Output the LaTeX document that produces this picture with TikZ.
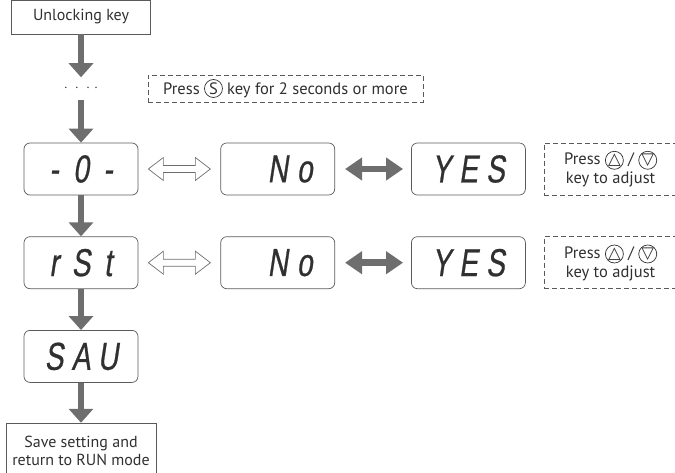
\documentclass[tikz,border=0pt]{standalone}
\usepackage{fontspec}
\setmainfont{PT Sans}
\newfontfamily\segfont{Liberation Sans}[FakeSlant=0.15,FakeStretch=0.72,FakeBold=0.6]
\newfontfamily\symfont{DejaVu Sans}
\usepackage{tikz}
\usetikzlibrary{arrows.meta,positioning,calc}
\definecolor{arrowgray}{HTML}{6E6E6E}
\definecolor{framegray}{HTML}{5A5A5A}
\definecolor{textgray}{HTML}{303030}
\newcommand{\segchars}[3]{\makebox[27pt]{#1}\makebox[27pt]{#2}\makebox[27pt]{#3}}
\newcommand{\keycirc}[1]{\tikz[baseline=(k.base)]\node[circle,draw=textgray,line width=0.7pt,inner sep=0pt,minimum size=18pt] (k) {#1};}

\begin{document}
\begin{tikzpicture}[x=1pt, y=-1pt, node distance=41pt,
    every node/.style={text=textgray},
    textbox/.style={draw=framegray, line width=0.7pt, font=\fontsize{16}{18}\selectfont, inner sep=2pt},
    display/.style={draw=framegray, line width=0.7pt, rounded corners=6pt, minimum width=114pt, minimum height=52pt, inner sep=0pt, font=\segfont\fontsize{39}{39}\selectfont},
    hint/.style={draw=framegray, line width=0.7pt, dash pattern=on 5pt off 3pt, font=\fontsize{16.5}{19}\selectfont, align=center, inner sep=1pt},
    down/.style={draw=arrowgray, line width=6.5pt, -{Triangle[width=24pt,length=14pt]}},
    swap/.style={draw=arrowgray, line width=6.5pt, {Triangle[width=22pt,length=17pt]}-{Triangle[width=22pt,length=17pt]}, shorten <=10pt, shorten >=8pt},
    hollow/.style={draw=arrowgray, fill=white, line width=0.7pt, line join=miter}]
  \useasboundingbox (0,0) rectangle (675,473);

  % display column
  \node[display] (zero) at (81,169) {\segchars{-}{0}{-}};
  \node[display, below=of zero] (rst) {\segchars{r}{S}{t}};
  \node[display, below=of rst] (sav) {\segchars{S}{A}{U}};
  \node[textbox, below=40pt of sav, minimum width=150pt, minimum height=56pt, align=center] (save) {Save setting and\\return to RUN mode};
  \node[minimum height=22pt, inner sep=0pt, font=\fontsize{14}{14}\selectfont, above=43pt of zero] (dots) {$\cdot\;\cdot\;\cdot\;\cdot$};
  \node[textbox, minimum width=139pt, minimum height=34pt, above=43pt of dots] (unlock) {Unlocking key};
  \node[hint, minimum width=275pt, minimum height=27pt] (presss) at (285.5,88.5) {Press \keycirc{S}\ key for 2 seconds or more};

  % choices
  \node[display, right=82pt of zero] (no1) {\segchars{}{N}{o}};
  \node[display, right=76pt of no1] (yes1) {\segchars{Y}{E}{S}};
  \node[hint, minimum width=133pt, minimum height=52pt, right=18pt of yes1] (adj1) {Press \keycirc{\symfont △}\ /\ \keycirc{\symfont ▽}\\key to adjust};
  \node[display, right=82pt of rst] (no2) {\segchars{}{N}{o}};
  \node[display, right=76pt of no2] (yes2) {\segchars{Y}{E}{S}};
  \node[hint, minimum width=133pt, minimum height=52pt, right=18pt of yes2] (adj2) {Press \keycirc{\symfont △}\ /\ \keycirc{\symfont ▽}\\key to adjust};

  \draw[down] (unlock) -- (dots);
  \draw[down] (dots) -- (zero);
  \draw[down] (zero) -- (rst);
  \draw[down] (rst) -- (sav);
  \draw[down] (sav) -- (save);
  \draw[swap] (no1) -- (yes1);
  \draw[swap] (no2) -- (yes2);
  % outlined two-way arrows
  \foreach \a/\b in {zero/no1, rst/no2}
    \draw[hollow] let \p1=($(\a.east)+(10pt,0pt)$), \p2=($(\b.west)-(10pt,0pt)$) in
      (\x1,\y1) -- (\x1+15pt,\y1+11.5pt) -- (\x1+15pt,\y1+3.5pt) -- (\x2-15pt,\y1+3.5pt)
      -- (\x2-15pt,\y1+11.5pt) -- (\x2,\y1) -- (\x2-15pt,\y1-11.5pt) -- (\x2-15pt,\y1-3.5pt)
      -- (\x1+15pt,\y1-3.5pt) -- (\x1+15pt,\y1-11.5pt) -- cycle;
\end{tikzpicture}
\end{document}
